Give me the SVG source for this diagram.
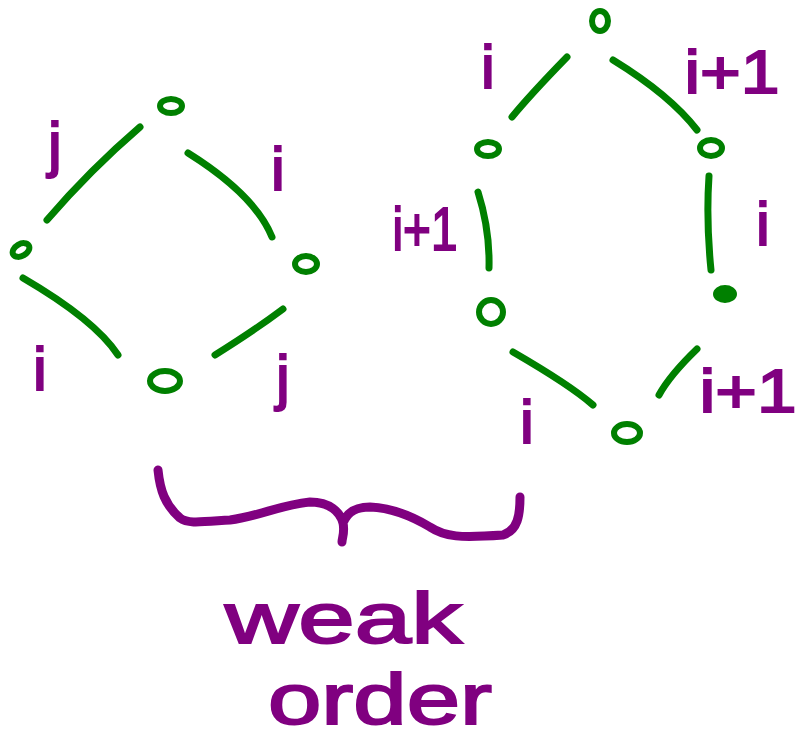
<svg xmlns="http://www.w3.org/2000/svg" width="801" height="740" viewBox="0 0 801 740">
<style>
.node{fill:none;stroke:#008000;stroke-width:6}
.fill{fill:#008000;stroke:#008000;stroke-width:4}
.edge{fill:none;stroke:#008000;stroke-width:7;stroke-linecap:round}
.lbl{fill:#800080;stroke:#800080;stroke-width:2;font-family:"Liberation Sans",Arial,sans-serif;font-size:62px;text-anchor:middle}
.brace{fill:none;stroke:#800080;stroke-width:9;stroke-linecap:round;stroke-linejoin:round}
.big{fill:#800080;stroke:#800080;stroke-width:2;font-family:"Liberation Sans",Arial,sans-serif;font-size:72px}
</style>
<rect width="801" height="740" fill="#fff"/>
<g id="connectors">
<path class="edge" d="M140,127 Q90,170 47,220"/>
<path class="edge" d="M188,153 Q255,195 272,237"/>
<path class="edge" d="M23,278 Q95,320 118,355"/>
<path class="edge" d="M215,355 Q255,330 283,309"/>
<path class="edge" d="M567,57 Q530,95 512,117"/>
<path class="edge" d="M613,60 Q670,95 697,130"/>
<path class="edge" d="M478,192 Q490,230 489,268"/>
<path class="edge" d="M709,176 Q706,220 711,270"/>
<path class="edge" d="M513,352 Q570,385 593,405"/>
<path class="edge" d="M697,349 Q670,375 659,395"/>
</g>
<g id="n-l-top"><ellipse class="node" cx="171" cy="106" rx="11" ry="7"/></g>
<g id="n-l-left"><ellipse class="node" cx="21" cy="250" rx="9" ry="6" transform="rotate(-30 21 250)"/></g>
<g id="n-l-right"><ellipse class="node" cx="306" cy="264" rx="11" ry="8"/></g>
<g id="n-l-bottom"><ellipse class="node" cx="165" cy="381" rx="15" ry="10"/></g>
<g id="n-r-top"><ellipse class="node" cx="600" cy="21" rx="8" ry="10"/></g>
<g id="n-r-ul"><ellipse class="node" cx="488" cy="149" rx="11" ry="7"/></g>
<g id="n-r-ur"><ellipse class="node" cx="711" cy="148" rx="11" ry="8"/></g>
<g id="n-r-ll"><ellipse class="node" cx="491" cy="312" rx="12" ry="12"/></g>
<g id="n-r-lr"><ellipse class="fill" cx="725" cy="294" rx="10" ry="7"/></g>
<g id="n-r-bottom"><ellipse class="node" cx="627" cy="433" rx="13" ry="9"/></g>
<g id="labels">
<text class="lbl" x="55" y="165">j</text>
<text class="lbl" x="278" y="190">i</text>
<text class="lbl" x="40" y="390">i</text>
<text class="lbl" x="283" y="398">j</text>
<text class="lbl" x="488" y="88">i</text>
<text class="lbl" x="732" y="93" textLength="95" lengthAdjust="spacingAndGlyphs">i+1</text>
<text class="lbl" x="425" y="250" textLength="65" lengthAdjust="spacingAndGlyphs">i+1</text>
<text class="lbl" x="763" y="245">i</text>
<text class="lbl" x="527" y="443">i</text>
<text class="lbl" x="748" y="412" textLength="97" lengthAdjust="spacingAndGlyphs">i+1</text>
</g>
<g id="brace">
<path class="brace" d="M158,470 C160,490 165,505 180,518 C188,524 200,522 230,520 C260,516 280,505 310,502 C330,502 340,512 343,523 C345,532 342,538 342,542 M343,523 C348,510 358,507 370,507 C395,508 415,518 430,527 C445,537 460,538 503,535 C518,530 520,515 520,497"/>
</g>
<g id="caption">
<text class="big" x="225" y="643" textLength="237" lengthAdjust="spacingAndGlyphs">weak</text>
<text class="big" x="268" y="724" textLength="224" lengthAdjust="spacingAndGlyphs">order</text>
</g>
</svg>
